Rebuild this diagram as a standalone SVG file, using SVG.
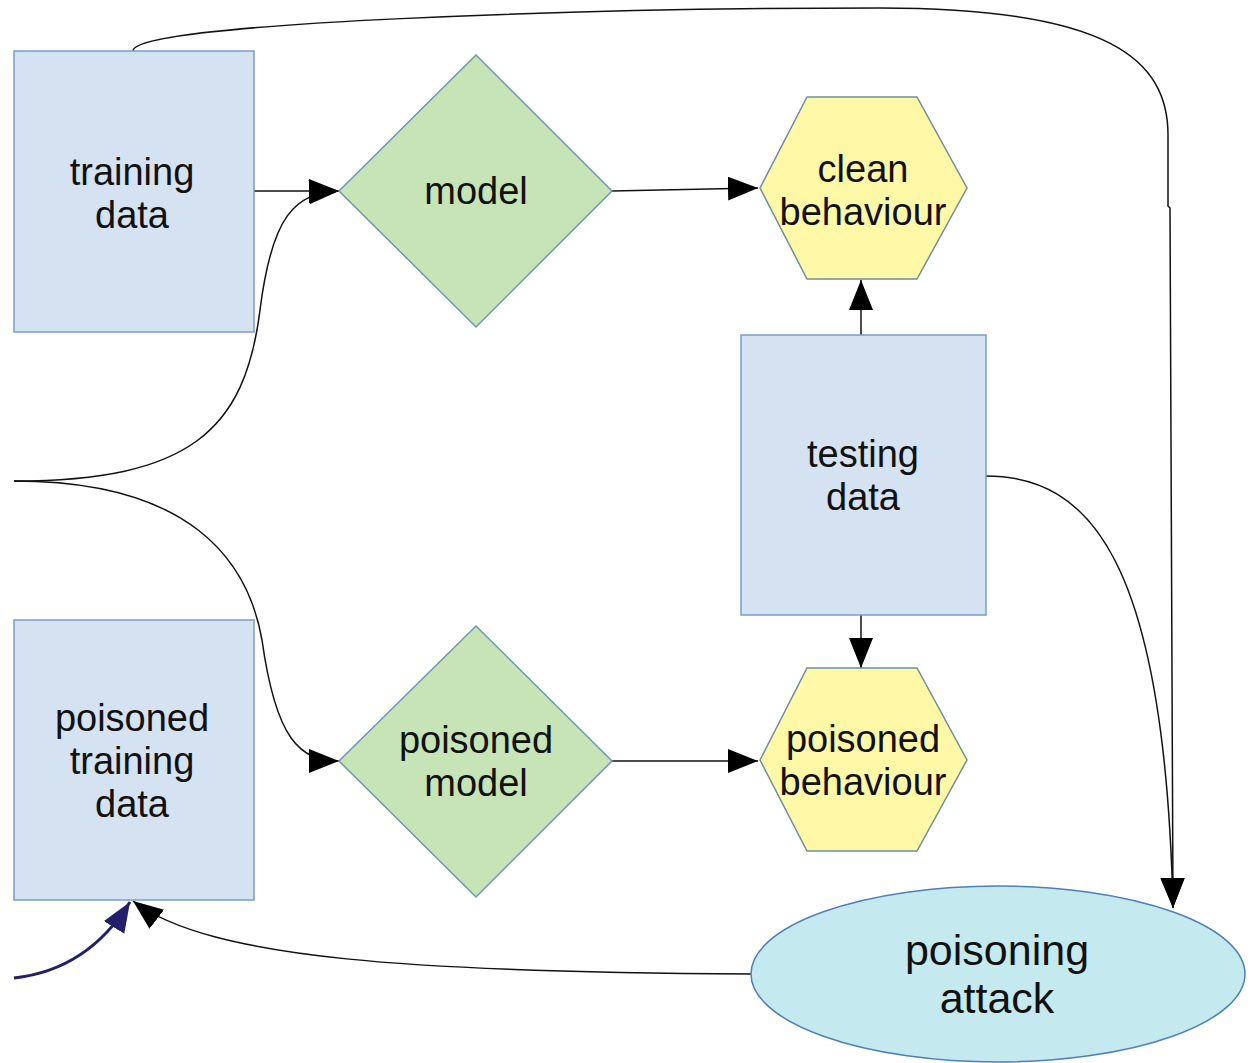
<svg xmlns="http://www.w3.org/2000/svg" width="1252" height="1063" viewBox="0 0 1252 1063">
<style>
.box{fill:#d5e2f1;stroke:#7c9cc8;stroke-width:1.5}
.dia{fill:#c6e4b6;stroke:#6f97b4;stroke-width:1.5}
.hex{fill:#fff8a6;stroke:#6d8f9c;stroke-width:1.5}
.ell{fill:#c4eaef;stroke:#4f7fb8;stroke-width:1.5}
.lbl{font-family:"Liberation Sans",Arial,sans-serif;font-size:38px;fill:#111;text-anchor:middle}
.big{font-size:43px}
.c{fill:none;stroke:#111;stroke-width:1.5}
</style>
<defs>
<marker id="ah" markerUnits="userSpaceOnUse" markerWidth="32" markerHeight="26" refX="30" refY="12" orient="auto">
<path d="M0,0 L30,12 L0,24 Z" fill="#000"/>
</marker>
<marker id="ahn" markerUnits="userSpaceOnUse" markerWidth="32" markerHeight="26" refX="30" refY="12" orient="auto">
<path d="M0,0 L30,12 L0,24 Z" fill="#23206b"/>
</marker>
</defs>
<g id="connectors">
<path class="c" d="M254,191 L339,191" marker-end="url(#ah)"/>
<path class="c" d="M14,481 C190,481 245,430 260,310 C272,215 295,193 339,191" marker-end="url(#ah)"/>
<path class="c" d="M14,481 C190,481 248,560 262,640 C276,740 300,761 339,761" marker-end="url(#ah)"/>
<path class="c" d="M612,191 L758,188" marker-end="url(#ah)"/>
<path class="c" d="M612,761 L758,761" marker-end="url(#ah)"/>
<path class="c" d="M861,335 L861,280" marker-end="url(#ah)"/>
<path class="c" d="M861,615 L861,668" marker-end="url(#ah)"/>
<path class="c" d="M986,476 C1090,476 1165,560 1173,908" marker-end="url(#ah)"/>
<path class="c" d="M133,51 C133,22 600,8 880,8 C1110,8 1168,60 1168,135 L1168,206 L1170,208 L1173,908" marker-end="url(#ah)"/>
<path class="c" d="M751,974 C420,972 210,960 133,901" marker-end="url(#ah)"/>
<path d="M14,978 C60,973 100,950 130,902" fill="none" stroke="#23206b" stroke-width="3" marker-end="url(#ahn)"/>
</g>
<g id="training-data">
<rect class="box" x="14" y="51" width="240" height="281"/>
<text class="lbl" x="132" y="185">training</text>
<text class="lbl" x="132" y="228">data</text>
</g>
<g id="poisoned-training-data">
<rect class="box" x="14" y="620" width="240" height="280"/>
<text class="lbl" x="132" y="731">poisoned</text>
<text class="lbl" x="132" y="774">training</text>
<text class="lbl" x="132" y="817">data</text>
</g>
<g id="model">
<polygon class="dia" points="476,55 612,191 476,327 339,191"/>
<text class="lbl" x="476" y="204">model</text>
</g>
<g id="poisoned-model">
<polygon class="dia" points="476,626 612,761 476,897 339,761"/>
<text class="lbl" x="476" y="753">poisoned</text>
<text class="lbl" x="476" y="796">model</text>
</g>
<g id="clean-behaviour">
<polygon class="hex" points="760,188 807,97 917,97 967,188 917,279 807,279"/>
<text class="lbl" x="863" y="182">clean</text>
<text class="lbl" x="863" y="225">behaviour</text>
</g>
<g id="poisoned-behaviour">
<polygon class="hex" points="760,760 807,668 917,668 967,760 917,851 807,851"/>
<text class="lbl" x="863" y="752">poisoned</text>
<text class="lbl" x="863" y="795">behaviour</text>
</g>
<g id="testing-data">
<rect class="box" x="741" y="335" width="245" height="280"/>
<text class="lbl" x="863" y="467">testing</text>
<text class="lbl" x="863" y="510">data</text>
</g>
<g id="poisoning-attack">
<ellipse class="ell" cx="998" cy="974" rx="247" ry="88"/>
<text class="lbl big" x="997" y="965">poisoning</text>
<text class="lbl big" x="997" y="1013">attack</text>
</g>
</svg>
